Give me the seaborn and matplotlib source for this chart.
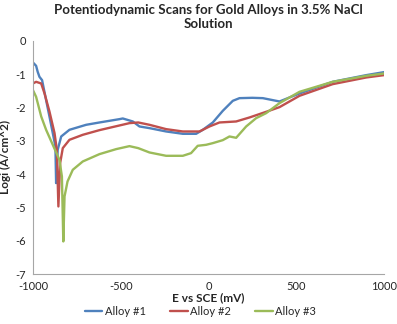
import matplotlib
matplotlib.use("Agg")
import matplotlib.pyplot as plt
import seaborn as sns
import pandas as pd

alloy1_x = [-1000, -982, -973, -963, -948, -925, -906, -887, -872, -868, -859, -839, -792, -697, -621,
            -507, -488, -431, -393, -336, -241, -146, -70, -32, 25, 82, 139, 177, 250, 310, 405, 519,
            708, 899, 1000]
alloy1_y = [-0.65, -0.75, -0.93, -1.08, -1.18, -1.78, -2.27, -2.77, -3.17, -4.27, -3.27, -2.87, -2.67,
            -2.52, -2.45, -2.35, -2.33, -2.42, -2.57, -2.62, -2.72, -2.79, -2.79, -2.67, -2.45, -2.1,
            -1.8, -1.72, -1.71, -1.72, -1.82, -1.58, -1.23, -1.03, -0.94]

alloy2_x = [-1000, -982, -953, -934, -906, -877, -864, -855, -845, -830, -792, -716, -621, -450, -400,
            -336, -241, -146, -51, 6, 63, 158, 234, 329, 405, 519, 708, 899, 1000]
alloy2_y = [-1.28, -1.23, -1.28, -1.58, -2.12, -2.77, -3.27, -4.97, -3.67, -3.22, -2.97, -2.82, -2.68,
            -2.47, -2.45, -2.52, -2.65, -2.72, -2.72, -2.57, -2.45, -2.42, -2.3, -2.13, -1.99, -1.65,
            -1.3, -1.1, -1.03]

alloy3_x = [-1000, -982, -953, -925, -887, -849, -835, -827, -820, -803, -773, -716, -621, -526, -450,
            -400, -336, -241, -146, -99, -61, -13, 25, 82, 120, 158, 215, 272, 329, 405, 519, 708, 899,
            1000]
alloy3_y = [-1.48, -1.68, -2.27, -2.67, -3.12, -3.57, -4.07, -6.02, -4.67, -4.22, -3.87, -3.62, -3.4,
            -3.25, -3.16, -3.22, -3.35, -3.45, -3.45, -3.37, -3.15, -3.12, -3.07, -2.98, -2.87, -2.91,
            -2.57, -2.32, -2.17, -1.87, -1.53, -1.23, -1.05, -0.98]

series_names = ["Alloy #1", "Alloy #2", "Alloy #3"]
colors = ["#4F81BD", "#C0504D", "#9BBB59"]
x_ticks = [-1000, -500, 0, 500, 1000]
y_ticks = [0, -1, -2, -3, -4, -5, -6, -7]

frames = []
for name, xs, ys in zip(series_names, [alloy1_x, alloy2_x, alloy3_x], [alloy1_y, alloy2_y, alloy3_y]):
    frames.append(pd.DataFrame({"E": xs, "logi": ys, "series": name}))
df = pd.concat(frames, ignore_index=True)

sns.set_style("white")
plt.rcParams["font.family"] = ["Lato", "DejaVu Sans"]

fig = plt.figure(figsize=(3.97, 3.24), dpi=100)
ax = fig.add_axes([0.083, 0.154, 0.884, 0.72])

sns.lineplot(data=df, x="E", y="logi", hue="series", palette=colors, sort=False,
             estimator=None, linewidth=1.7, ax=ax, legend=False)

ax.set_xlim(-1000, 1000)
ax.set_ylim(-7, 0)
ax.set_xticks(x_ticks)
ax.set_yticks(y_ticks)
ax.set_xticklabels([str(t) for t in x_ticks], fontsize=8)
ax.set_yticklabels([str(t) for t in y_ticks], fontsize=8)
for s in ["top", "right"]:
    ax.spines[s].set_visible(False)
for s in ["left", "bottom"]:
    ax.spines[s].set_color("#A6A6A6")
    ax.spines[s].set_linewidth(0.8)
ax.tick_params(axis="both", direction="out", length=3, width=0.8, color="#A6A6A6", pad=2)
ax.grid(False)

ax.set_xlabel("E vs SCE (mV)", fontsize=8.5, fontweight="bold", labelpad=0)
ax.set_ylabel("Logi (A/cm^2)", fontsize=8.5, fontweight="bold", labelpad=3)
ax.set_title("Potentiodynamic Scans for Gold Alloys in 3.5% NaCl\nSolution",
             fontsize=9.5, fontweight="bold", pad=9)

handles = [plt.Line2D([0], [0], color=c, lw=1.7) for c in colors]
fig.legend(handles, series_names, loc="center", bbox_to_anchor=(0.505, 0.04), ncol=3,
           frameon=False, fontsize=8, handlelength=1.6, handletextpad=0.2, columnspacing=2.2)

fig.savefig("out.png", dpi=100)
